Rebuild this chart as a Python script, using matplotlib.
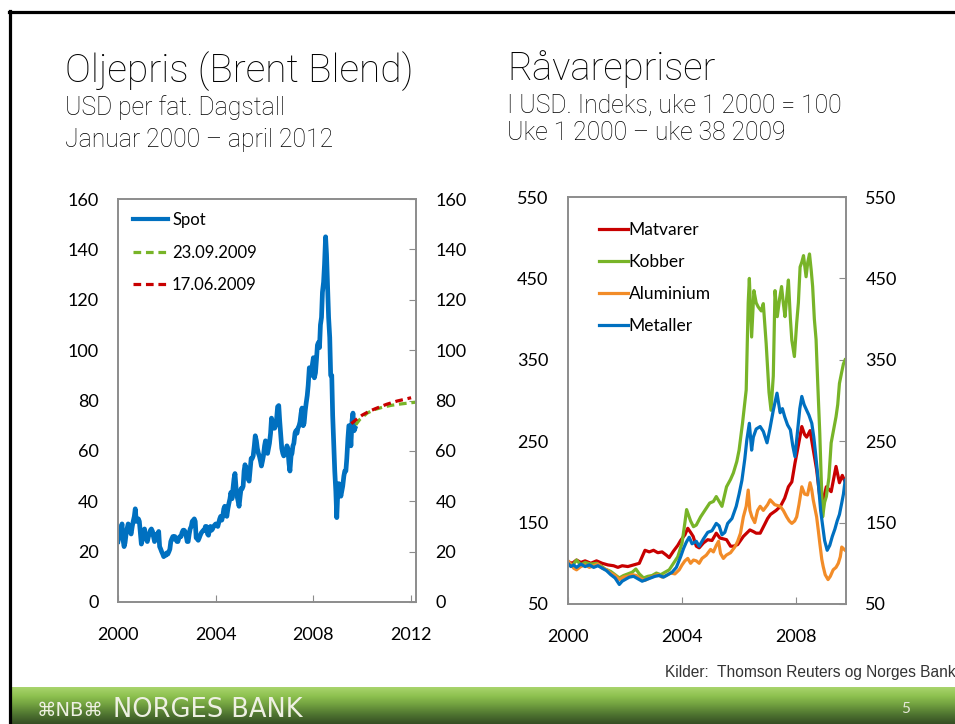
import numpy as np
import pandas as pd
import matplotlib.pyplot as plt
from matplotlib.lines import Line2D
from matplotlib.colors import LinearSegmentedColormap

# === DATA: Brent spot, semi-monthly (1st and 15th), Jan 2000 - Sep 2009 ===
spot = [
    24, 26, 28, 29, 31, 25, 22, 23.5, 27, 29, 31, 30, 28, 27, 30, 32, 34, 37, 32, 33, 33, 32, 27, 23,
    25, 27, 29, 27, 25, 24, 26, 27, 28.5, 29, 28, 26, 24, 25, 27, 26, 28, 22, 21, 20, 19, 18, 19, 18.5,
    19.5, 19, 20, 21, 24, 25, 26, 25, 26, 25, 24, 24, 25.5, 26, 26, 27.5, 28.5, 28.5, 28, 26.5, 24, 24, 27, 29,
    30, 32, 32.5, 33, 32, 25.5, 25, 24.5, 25.5, 26.5, 27.5, 28, 28.5, 28.5, 30, 30, 27, 26.5, 29, 30, 28.5, 29, 30, 30.5,
    31, 30.5, 30, 31.5, 33, 34, 32.5, 34, 37, 38, 36, 34, 37, 39, 41, 43.5, 41, 45, 49, 51, 45, 42, 40, 38,
    42, 45, 45, 46, 52, 54.5, 53, 51, 49, 48, 53, 57, 57, 58, 62, 66, 64, 61, 59, 58, 56, 54, 56, 58,
    62, 64, 60, 59, 61, 63, 67, 73, 71, 69, 69, 70, 73, 77.5, 78, 72, 66, 61, 59, 58, 59, 60, 62, 61,
    55, 52, 58, 59, 62, 63, 67, 68, 67, 69, 70, 71.5, 75, 77, 70, 71, 76, 79, 82, 86, 93, 91, 90, 94,
    97, 89, 91, 96, 102, 103, 101, 110, 113, 123, 127, 134, 145, 138, 124, 113, 105, 90, 90, 74, 62, 52, 44, 33.5,
    44, 47, 45, 42, 44, 46, 50, 52, 52, 57, 65, 70, 70, 62, 72, 75, 68, 69,
]

# futures curves
fut_sep_t = [2009.73, 2009.9, 2010.2, 2010.5, 2010.86, 2011.2, 2011.56, 2011.9, 2012.25]
fut_sep_v = [70.3, 72.5, 75.0, 76.4, 77.4, 78.1, 78.6, 79.0, 79.4]
fut_jun_t = [2009.55, 2009.8, 2010.0, 2010.3, 2010.6, 2011.0, 2011.43, 2011.75, 2012.0]
fut_jun_v = [70.8, 72.8, 74.2, 75.8, 77.0, 78.5, 79.8, 80.5, 81.1]

# === DATA: commodity indices, week 1 2000 = 100 ===
mat_t = [2000.0, 2000.15, 2000.3, 2000.45, 2000.6, 2000.8, 2001.0, 2001.2, 2001.4, 2001.6,
         2001.75, 2001.9, 2002.1, 2002.3, 2002.5, 2002.6, 2002.7, 2002.85, 2003.0, 2003.15,
         2003.3, 2003.45, 2003.55, 2003.7, 2003.85, 2003.95, 2004.1, 2004.2, 2004.3, 2004.39,
         2004.5, 2004.6, 2004.75, 2004.9, 2005.05, 2005.2, 2005.33, 2005.45, 2005.56, 2005.7,
         2005.8, 2005.95, 2006.15, 2006.38, 2006.5, 2006.6, 2006.74, 2006.9, 2007.0, 2007.1,
         2007.3, 2007.45, 2007.6, 2007.73, 2007.85, 2007.96, 2008.08, 2008.2, 2008.3, 2008.37,
         2008.49, 2008.6, 2008.72, 2008.83, 2008.95, 2009.06, 2009.23, 2009.4, 2009.52, 2009.62,
         2009.72]
mat_v = [102, 100, 104, 101, 103, 100, 103, 100, 98, 97,
         95, 97, 96, 98, 100, 108, 116, 114, 116, 113,
         114, 110, 107, 115, 122, 128, 135, 143, 138, 133,
         121, 119, 125, 129, 128, 137, 131, 130, 129, 121,
         121, 123, 133, 141, 139, 137, 137, 148, 155, 160,
         165, 170, 180, 194, 200, 223, 245, 268, 258, 255,
         263, 240, 215, 182, 178, 194, 188, 219, 199, 208,
         200]

kob_t = [2000.0, 2000.15, 2000.3, 2000.45, 2000.6, 2000.8, 2001.0, 2001.15, 2001.3, 2001.5,
         2001.65, 2001.8, 2001.95, 2002.1, 2002.25, 2002.38, 2002.5, 2002.65, 2002.8, 2002.95,
         2003.1, 2003.25, 2003.4, 2003.55, 2003.7, 2003.85, 2004.0, 2004.1, 2004.16, 2004.3,
         2004.4, 2004.5, 2004.65, 2004.8, 2004.97, 2005.1, 2005.2, 2005.4, 2005.56, 2005.7,
         2005.8, 2005.92, 2006.0, 2006.12, 2006.25, 2006.32, 2006.36, 2006.44, 2006.52, 2006.6,
         2006.67, 2006.78, 2006.85, 2006.95, 2007.05, 2007.12, 2007.2, 2007.26, 2007.34, 2007.42,
         2007.49, 2007.55, 2007.61, 2007.68, 2007.73, 2007.8, 2007.85, 2007.94, 2008.02, 2008.08,
         2008.14, 2008.2, 2008.26, 2008.35, 2008.41, 2008.47, 2008.53, 2008.58, 2008.64, 2008.7,
         2008.76, 2008.83, 2008.88, 2008.93, 2009.0, 2009.06, 2009.15, 2009.23, 2009.32, 2009.4,
         2009.46, 2009.52, 2009.6, 2009.66, 2009.72]
kob_v = [100, 97, 104, 98, 101, 99, 100, 97, 93, 90,
         86, 82, 85, 87, 89, 93, 87, 82, 84, 85,
         88, 86, 89, 92, 100, 108, 125, 150, 166, 152,
         145, 147, 157, 165, 174, 176, 182, 170, 194, 203,
         211, 225, 239, 272, 313, 420, 450, 378, 435, 420,
         415, 410, 419, 370, 310, 288, 330, 435, 403, 425,
         440, 420, 403, 430, 448, 400, 374, 354, 395, 420,
         464, 470, 478, 452, 470, 480, 460, 440, 400, 375,
         320, 260, 205, 157, 175, 182, 205, 248, 265, 280,
         295, 321, 335, 345, 350]

alu_t = [2000.0, 2000.1, 2000.2, 2000.3, 2000.45, 2000.6, 2000.75, 2000.9, 2001.05, 2001.2,
         2001.35, 2001.5, 2001.65, 2001.8, 2001.95, 2002.1, 2002.25, 2002.4, 2002.55, 2002.7,
         2002.85, 2003.0, 2003.15, 2003.3, 2003.45, 2003.6, 2003.75, 2003.9, 2004.0, 2004.1,
         2004.2, 2004.3, 2004.4, 2004.5, 2004.6, 2004.7, 2004.85, 2005.0, 2005.1, 2005.2,
         2005.28, 2005.35, 2005.45, 2005.55, 2005.7, 2005.85, 2005.95, 2006.05, 2006.15, 2006.25,
         2006.32, 2006.38, 2006.45, 2006.55, 2006.65, 2006.74, 2006.85, 2007.0, 2007.09, 2007.25,
         2007.44, 2007.55, 2007.67, 2007.76, 2007.85, 2007.95, 2008.02, 2008.1, 2008.2, 2008.3,
         2008.4, 2008.49, 2008.55, 2008.6, 2008.72, 2008.78, 2008.83, 2008.9, 2008.95, 2009.02,
         2009.12, 2009.2, 2009.3, 2009.4, 2009.48, 2009.55, 2009.6, 2009.66, 2009.72]
alu_v = [103, 99, 94, 92, 96, 98, 95, 97, 99, 94,
         92, 88, 85, 80, 83, 84, 86, 85, 81, 79,
         82, 84, 86, 83, 85, 88, 87, 92, 98, 103,
         106, 100, 104, 103, 100, 106, 110, 117, 114, 122,
         127, 112, 106, 110, 113, 120, 127, 137, 157, 170,
         190, 165, 157, 150, 165, 170, 165, 172, 178, 172,
         170, 165, 157, 152, 149, 152, 157, 172, 194, 185,
         184, 199, 190, 178, 157, 140, 125, 105, 96, 86,
         80, 84, 92, 95, 100, 108, 120, 118, 116]

met_t = [2000.0, 2000.1, 2000.2, 2000.3, 2000.45, 2000.6, 2000.75, 2000.9, 2001.05, 2001.2,
         2001.35, 2001.5, 2001.65, 2001.8, 2001.9, 2002.0, 2002.15, 2002.3, 2002.45, 2002.6,
         2002.75, 2002.9, 2003.05, 2003.2, 2003.35, 2003.5, 2003.65, 2003.8, 2003.95, 2004.05,
         2004.15, 2004.25, 2004.35, 2004.5, 2004.6, 2004.75, 2004.9, 2005.05, 2005.2, 2005.3,
         2005.4, 2005.5, 2005.6, 2005.75, 2005.9, 2006.0, 2006.1, 2006.2, 2006.27, 2006.36,
         2006.44, 2006.5, 2006.6, 2006.74, 2006.85, 2006.98, 2007.08, 2007.2, 2007.33, 2007.44,
         2007.52, 2007.6, 2007.7, 2007.8, 2007.88, 2007.96, 2008.05, 2008.13, 2008.2, 2008.28,
         2008.37, 2008.45, 2008.55, 2008.62, 2008.67, 2008.74, 2008.8, 2008.86, 2008.92, 2009.0,
         2009.09, 2009.18, 2009.27, 2009.36, 2009.44, 2009.52, 2009.6, 2009.66, 2009.72]
met_v = [100, 96, 98, 95, 99, 96, 98, 95, 97, 94,
         91, 86, 82, 74, 78, 80, 83, 84, 81, 78,
         80, 82, 84, 85, 83, 86, 89, 95, 108, 118,
         126, 132, 124, 127, 121, 130, 138, 140, 149, 146,
         135, 138, 149, 155, 170, 185, 202, 228, 251, 272,
         239, 255, 265, 268, 262, 248, 265, 288, 309, 285,
         290, 280, 270, 264, 245, 231, 262, 290, 305, 295,
         288, 282, 272, 255, 239, 215, 190, 165, 149, 128,
         116, 122, 133, 142, 152, 160, 174, 185, 202]

oil_yticks = [0, 20, 40, 60, 80, 100, 120, 140, 160]
oil_xticks = [2000, 2004, 2008, 2012]
com_yticks = [50, 150, 250, 350, 450, 550]
com_xticks = [2000, 2004, 2008]

# === COLORS ===
BLUE = '#0070c0'
GREEN = '#78b428'
RED = '#c80000'
ORANGE = '#f28c28'
SPINE = '#8c8c8c'

W, H = 955, 724
fig = plt.figure(figsize=(W / 100, H / 100), dpi=100)


def fx(px):
    return px / W


def fy(py):
    return 1 - py / H


def style_axes(ax):
    for s in ax.spines.values():
        s.set_color(SPINE)
        s.set_linewidth(1.4)
    ax.tick_params(axis='y', left=False, right=True, labelleft=True, labelright=True,
                   direction='in', length=5, color=SPINE, pad=14, labelsize=13)
    ax.tick_params(axis='x', direction='in', length=5, color=SPINE, pad=18, labelsize=13)
    for lab in ax.get_xticklabels() + ax.get_yticklabels():
        lab.set_family('Lato')
    for t in ax.yaxis.get_major_ticks():
        t.label2.set_family('Lato')


# === LEFT: OIL PRICE ===
ax1 = fig.add_axes([fx(118), fy(602), (416 - 118) / W, (602 - 199) / H])
dates = pd.date_range('2000-01-01', periods=len(spot), freq='SMS')
spot_t = dates.year + (dates.dayofyear - 1) / 365.0
ax1.plot(spot_t, spot, color=BLUE, lw=3.4, label='Spot', solid_joinstyle='round')
ax1.plot(fut_sep_t, fut_sep_v, color=GREEN, lw=2.3, ls=(0, (2.4, 1.5)), label='23.09.2009')
ax1.plot(fut_jun_t, fut_jun_v, color=RED, lw=2.3, ls=(0, (2.4, 1.5)), label='17.06.2009')
ax1.set_xlim(2000, 2012.2)
ax1.set_ylim(0, 160)
ax1.set_yticks(oil_yticks)
ax1.set_xticks(oil_xticks)
ax1.set_xticklabels([str(v) for v in oil_xticks])
style_axes(ax1)
leg1 = ax1.legend(loc='upper left', bbox_to_anchor=(0.05, 0.968), frameon=False,
                  prop={'family': 'Lato', 'size': 12}, handlelength=2.1, handletextpad=0.25,
                  labelspacing=1.0, borderpad=0, borderaxespad=0)
for h in leg1.get_lines()[:1]:
    h.set_linewidth(3.0)

# === RIGHT: COMMODITIES ===
ax2 = fig.add_axes([fx(568), fy(604), (846 - 568) / W, (604 - 197) / H])
ax2.plot(mat_t, mat_v, color=RED, lw=2.3, label='Matvarer')
ax2.plot(kob_t, kob_v, color=GREEN, lw=2.3, label='Kobber')
ax2.plot(alu_t, alu_v, color=ORANGE, lw=2.3, label='Aluminium')
ax2.plot(met_t, met_v, color=BLUE, lw=2.3, label='Metaller')
ax2.set_xlim(2000, 2009.75)
ax2.set_ylim(50, 550)
ax2.set_yticks(com_yticks)
ax2.set_xticks(com_xticks)
ax2.set_xticklabels([str(v) for v in com_xticks])
style_axes(ax2)
ax2.legend(loc='upper left', bbox_to_anchor=(0.1115, 0.938), frameon=False,
           prop={'family': 'Lato', 'size': 12.5}, handlelength=1.65, handletextpad=0.05,
           labelspacing=0.92, borderpad=0, borderaxespad=0)

# === TITLES ===
tkw = dict(family='Roboto', color='#000000', va='baseline', fontweight='light')
fig.text(fx(65), fy(82), 'Oljepris (Brent Blend)', fontsize=28, **tkw)
fig.text(fx(65), fy(115), 'USD per fat. Dagstall', fontsize=17.8, **tkw)
fig.text(fx(65), fy(147), 'Januar 2000 – april 2012', fontsize=17.8, **tkw)
fig.text(fx(507), fy(80), 'Råvarepriser', fontsize=27.5, **tkw)
fig.text(fx(507), fy(113), 'I USD. Indeks, uke 1 2000 = 100', fontsize=17.8, **tkw)
fig.text(fx(507), fy(140), 'Uke 1 2000 – uke 38 2009', fontsize=17.8, **tkw)

fig.text(fx(665), fy(677), 'Kilder:  Thomson Reuters og Norges Bank', fontsize=11.2,
         family='Liberation Sans', color='#333333', va='baseline')

# === SLIDE FRAME ===
fig.add_artist(Line2D([fx(9.5), fx(9.5)], [fy(11), 0], color='black', lw=2.3,
                      transform=fig.transFigure))
fig.add_artist(Line2D([fx(8.5), 1], [fy(12), fy(12)], color='black', lw=2.3,
                      transform=fig.transFigure))

# === GREEN FOOTER BAR ===
bar = fig.add_axes([fx(11), 0, 1 - fx(11), 37 / H])
cmap = LinearSegmentedColormap.from_list('bar', ['#a8d46c', '#8cc04e', '#6e9c3e', '#4e7330', '#364f24'])
bar.imshow(np.linspace(0, 1, 64).reshape(-1, 1), cmap=cmap, aspect='auto', extent=[0, 1, 0, 1])
bar.axis('off')
fig.text(fx(37), fy(710), '⌘NB⌘', fontsize=14, color='#eef0e2', va='center', family='DejaVu Sans')
fig.text(fx(113), fy(710), 'NORGES BANK', fontsize=18.5, color='#eef0e2', va='center',
         family='DejaVu Sans')
fig.text(fx(906), fy(709), '5', fontsize=11, color='#e6e8da', va='center', ha='center', family='Lato')

fig.savefig('out.png', dpi=100)
